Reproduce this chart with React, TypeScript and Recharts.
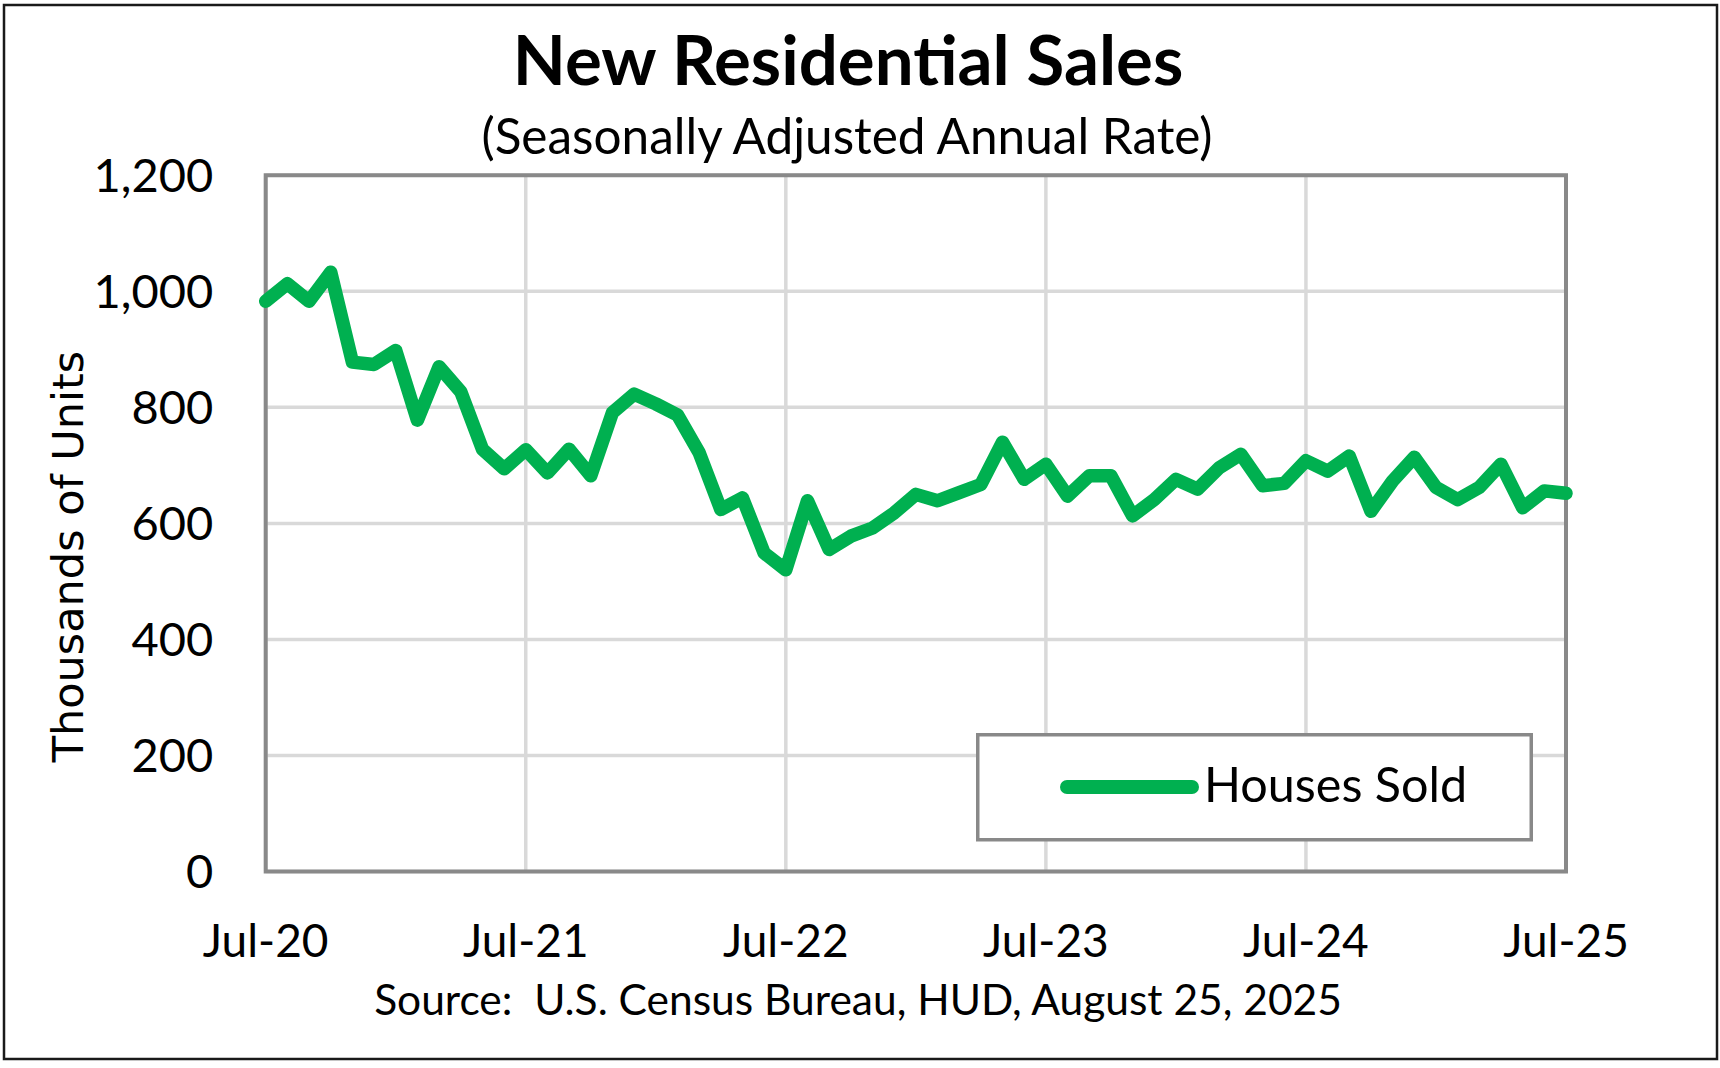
import React from "react";
import {
  LineChart,
  Line,
  XAxis,
  YAxis,
  CartesianGrid,
  ReferenceArea,
} from "recharts";

// monthly categories, Jul-20 .. Jul-25
const months = [
  "Jul-20", "Aug-20", "Sep-20", "Oct-20", "Nov-20", "Dec-20",
  "Jan-21", "Feb-21", "Mar-21", "Apr-21", "May-21", "Jun-21",
  "Jul-21", "Aug-21", "Sep-21", "Oct-21", "Nov-21", "Dec-21",
  "Jan-22", "Feb-22", "Mar-22", "Apr-22", "May-22", "Jun-22",
  "Jul-22", "Aug-22", "Sep-22", "Oct-22", "Nov-22", "Dec-22",
  "Jan-23", "Feb-23", "Mar-23", "Apr-23", "May-23", "Jun-23",
  "Jul-23", "Aug-23", "Sep-23", "Oct-23", "Nov-23", "Dec-23",
  "Jan-24", "Feb-24", "Mar-24", "Apr-24", "May-24", "Jun-24",
  "Jul-24", "Aug-24", "Sep-24", "Oct-24", "Nov-24", "Dec-24",
  "Jan-25", "Feb-25", "Mar-25", "Apr-25", "May-25", "Jun-25",
  "Jul-25",
];

// thousands of units, SAAR
const housesSold = [
  983, 1013, 983, 1033, 878, 874, 898, 778, 870, 827, 728, 694,
  727, 687, 728, 682, 791, 823, 806, 787, 722, 624, 644, 549,
  520, 639, 555, 578, 592, 618, 650, 639, 653, 667, 740, 676,
  702, 647, 682, 682, 613, 641, 676, 659, 696, 719, 665, 669,
  708, 690, 716, 621, 673, 714, 662, 641, 662, 702, 627, 656,
  652,
];

const xTickLabels = ["Jul-20", "Jul-21", "Jul-22", "Jul-23", "Jul-24", "Jul-25"];
const yTicks = [0, 200, 400, 600, 800, 1000, 1200];
const seriesName = "Houses Sold";

const data = months.map((month, idx) => ({ idx, month, sold: housesSold[idx] }));
const xTicks = xTickLabels.map((l) => months.indexOf(l));

const GREEN = "#00b050";
const BORDER = "#898989";
const CALIBRI = "Lato, 'Open Sans', sans-serif";

export default function App() {
  return (
    <div style={{ position: "absolute", left: 0, top: 0, width: 1720, height: 1068, background: "#fff" }}>
      <LineChart
        width={1720}
        height={1068}
        data={data}
        margin={{ top: 175.3, right: 154, bottom: 0, left: 0 }}
      >
        <CartesianGrid stroke="#d9d9d9" strokeWidth={3.5} />
        <XAxis
          type="number"
          dataKey="idx"
          domain={[0, 60]}
          ticks={xTicks}
          interval={0}
          tickFormatter={(v) => months[v]}
          height={196.5}
          tickSize={0}
          tickMargin={52.7}
          axisLine={false}
          tick={{ fill: "#000", fontSize: 46, fontFamily: CALIBRI }}
        />
        <YAxis
          domain={[0, 1200]}
          ticks={yTicks}
          interval={0}
          tickFormatter={(v) => v.toLocaleString("en-US")}
          width={265.7}
          tickSize={0}
          tickMargin={52.5}
          axisLine={false}
          tick={{ fill: "#000", fontSize: 47, fontFamily: CALIBRI }}
        />
        <ReferenceArea x1={0} x2={60} y1={0} y2={1200} fill="none" stroke={BORDER} strokeWidth={4} fillOpacity={0} />
        <Line
          type="linear"
          dataKey="sold"
          name={seriesName}
          stroke={GREEN}
          strokeWidth={13.5}
          strokeLinejoin="round"
          strokeLinecap="round"
          dot={false}
          activeDot={false}
          isAnimationActive={false}
        />
      </LineChart>

      <svg
        width={1720}
        height={1068}
        style={{ position: "absolute", left: 0, top: 0, pointerEvents: "none" }}
      >
        <rect x={4} y={5} width={1713} height={1054} fill="none" stroke="#1a1a1a" strokeWidth={2.5} />
        <text x={848} y={85} textAnchor="middle" fontFamily={CALIBRI} fontWeight={700} fontSize={69} fill="#000">
          New Residential Sales
        </text>
        <text x={847} y={154} textAnchor="middle" fontFamily={CALIBRI} fontSize={49.5} fill="#000">
          (Seasonally Adjusted Annual Rate)
        </text>
        <text
          x={83}
          y={556.5}
          transform="rotate(-90 83 556.5)"
          textAnchor="middle"
          fontFamily="'DejaVu Sans', sans-serif"
          fontSize={43}
          fill="#000"
        >
          Thousands of Units
        </text>
        <text
          x={858}
          y={1015}
          textAnchor="middle"
          fontFamily={CALIBRI}
          fontSize={42.5}
          fill="#000"
          style={{ whiteSpace: "pre" }}
        >
          {"Source:  U.S. Census Bureau, HUD, August 25, 2025"}
        </text>

        {/* legend */}
        <g transform="translate(976 733)">
          <rect x={1.75} y={1.75} width={553.5} height={105} fill="#fff" stroke={BORDER} strokeWidth={3.5} />
          <line x1={91} y1={54} x2={216} y2={54} stroke={GREEN} strokeWidth={14} strokeLinecap="round" />
          <text x={228} y={69} fontFamily={CALIBRI} fontSize={48.5} fill="#000">
            {seriesName}
          </text>
        </g>
      </svg>
    </div>
  );
}
